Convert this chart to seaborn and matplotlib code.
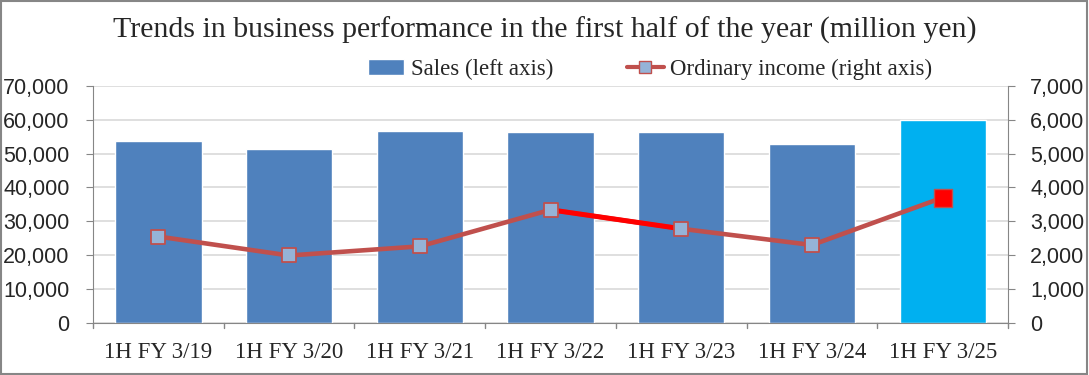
"""Half-year sales and ordinary income trend chart."""

import matplotlib.pyplot as plt
import seaborn as sns
import pandas as pd
from matplotlib.lines import Line2D
from matplotlib.patches import Patch, Rectangle

periods = ["1H FY 3/19", "1H FY 3/20", "1H FY 3/21", "1H FY 3/22",
           "1H FY 3/23", "1H FY 3/24", "1H FY 3/25"]
sales = [53600, 51300, 56700, 56500, 56500, 52700, 60000]
ordinary_income = [2550, 1990, 2260, 3340, 2780, 2300, 3700]
highlight_segment = ["1H FY 3/22", "1H FY 3/23"]

BAR_BLUE = "#4F81BD"
BAR_LATEST = "#00B0F0"
LINE_RED = "#C0504D"
SERIF = ["Liberation Serif", "DejaVu Serif"]
SANS = ["Liberation Sans", "DejaVu Sans"]

sns.set_style("white")
plt.rcParams["font.family"] = SANS

df = pd.DataFrame({"period": periods, "sales": sales, "income": ordinary_income})
df["x"] = range(len(df))

fig = plt.figure(figsize=(10.89, 3.75), dpi=100)
ax = fig.add_axes([0.0854, 0.139, 0.8403, 0.632])

bar_colors = [BAR_BLUE] * (len(df) - 1) + [BAR_LATEST]
sns.barplot(data=df, x="period", y="sales", hue="period", palette=bar_colors,
            width=0.66, legend=False, saturation=1, ax=ax, zorder=2)

ax.set_ylim(0, 70000)
ax.set_yticks(range(0, 70001, 10000))
ax.set_yticklabels([f"{v:,}" for v in range(0, 70001, 10000)], fontsize=15.5)
ax.set_xlim(-0.5, len(df) - 0.5)
ax.set_xlabel("")
ax.set_ylabel("")
ax.set_xticks(range(len(df)))
ax.set_xticklabels(periods, family=SERIF, fontsize=16.5)
ax.tick_params(axis="x", length=0, pad=14)
ax.tick_params(axis="y", length=5, color="#868686", direction="out", pad=12)
ax.yaxis.grid(True, color="#D9D9D9", linewidth=1.2, zorder=0)
ax.set_axisbelow(True)
for side in ["top", "right"]:
    ax.spines[side].set_visible(False)
for side in ["left", "bottom"]:
    ax.spines[side].set_color("#868686")
# category boundary ticks below the axis
for b in [i - 0.5 for i in range(len(df) + 1)]:
    ax.plot([b, b], [0, -1600], color="#868686", lw=1, clip_on=False, zorder=3)

ax2 = ax.twinx()
ax2.set_ylim(0, 7000)
ax2.set_yticks(range(0, 7001, 1000))
ax2.set_yticklabels([f"{v:,}" for v in range(0, 7001, 1000)], fontsize=15.5)
ax2.tick_params(axis="y", length=5, color="#868686", direction="out", pad=11)
for side in ["top", "left", "bottom"]:
    ax2.spines[side].set_visible(False)
ax2.spines["right"].set_color("#868686")

sns.lineplot(data=df, x="x", y="income", color=LINE_RED, linewidth=3.3,
             ax=ax2, zorder=3)
seg = df[df["period"].isin(highlight_segment)]
ax2.plot(seg["x"], seg["income"], color="#FF0000", linewidth=3.6, zorder=4)
ax2.scatter(df["x"][:-1], df["income"][:-1], marker="s", s=95,
            color="#95B3D7", edgecolor=LINE_RED, linewidth=1.3, zorder=5)
ax2.scatter(df["x"].iloc[-1:], df["income"].iloc[-1:], marker="s", s=160,
            color="#FF0000", edgecolor=LINE_RED, linewidth=1.0, zorder=5)
ax2.set_xlabel("")
ax2.set_ylabel("")
ax2.set_xlim(-0.5, len(df) - 0.5)

fig.text(0.5, 0.918, "Trends in business performance in the first half of the year (million yen)",
         ha="center", va="center", family=SERIF, fontsize=21.5)

handles = [
    Patch(facecolor=BAR_BLUE, label="Sales (left axis)"),
    Line2D([0], [0], color=LINE_RED, lw=3, marker="s", markersize=8,
           markerfacecolor="#95B3D7", markeredgecolor=LINE_RED,
           label="Ordinary income (right axis)"),
]
fig.legend(handles=handles, loc="center", bbox_to_anchor=(0.597, 0.815), ncol=2,
           frameon=False, prop={"family": SERIF, "size": 16.5},
           handlelength=1.6, handletextpad=0.3, columnspacing=3.2)

fig.patches.append(Rectangle((0.001, 0.002), 0.997, 0.995, transform=fig.transFigure,
                             fill=False, edgecolor="#868686", linewidth=1.5))

fig.savefig("out.png", dpi=100)
